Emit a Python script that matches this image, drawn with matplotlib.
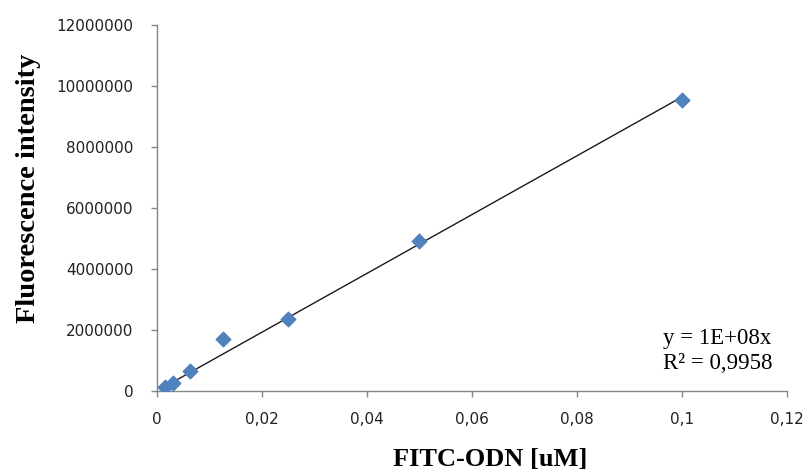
import matplotlib
matplotlib.use("Agg")
from matplotlib import pyplot as plt
from matplotlib.ticker import FuncFormatter
import numpy as np

# FITC-ODN concentration [uM] and measured fluorescence
conc = [0.1, 0.05, 0.025, 0.0125, 0.00625, 0.003125, 0.0015625]
intensity = [9540000, 4920000, 2360000, 1700000, 660000, 260000, 130000]

x_ticks = [0, 0.02, 0.04, 0.06, 0.08, 0.1, 0.12]
y_ticks = [0, 2000000, 4000000, 6000000, 8000000, 10000000, 12000000]

trend_label = 'y = 1E+08x\nR\u00b2 = 0,9958'

x = np.array(conc)
y = np.array(intensity)

# linear trendline forced through zero (Excel style)
slope = np.sum(x * y) / np.sum(x * x)

fig = plt.figure(figsize=(8.1, 4.73), dpi=100)
ax = fig.add_axes([0.1938, 0.1734, 0.7778, 0.7737])

xl = np.array([x.min(), x.max()])
ax.plot(xl, slope * xl, color='#1a1a1a', lw=1.0, zorder=2)
ax.scatter(x, y, marker='D', s=55, color='#4F81BD', edgecolors='#4F81BD',
           zorder=3)

ax.set_xlim(0, 0.12)
ax.set_ylim(0, 12000000)
ax.set_xticks(x_ticks)
ax.set_yticks(y_ticks)
ax.xaxis.set_major_formatter(FuncFormatter(
    lambda v, p: '0' if v == 0 else ('%g' % round(v, 4)).replace('.', ',')))
ax.yaxis.set_major_formatter(FuncFormatter(lambda v, p: '%d' % v))

for s in ['top', 'right']:
    ax.spines[s].set_visible(False)
for s in ['left', 'bottom']:
    ax.spines[s].set_color('#868686')
    ax.spines[s].set_linewidth(1.0)
ax.tick_params(direction='out', length=4.5, width=1.0, color='#868686',
               labelsize=11, labelcolor='#222222', pad=10.5)
ax.tick_params(axis='y', pad=12.5)

serif = ['Liberation Serif', 'DejaVu Serif']
fig.text(490 / 810, 1 - 459 / 473, 'FITC-ODN [uM]', family=serif,
         fontweight='bold', fontsize=19, ha='center', va='center')
fig.text(28.5 / 810, 1 - 188 / 473, 'Fluorescence intensity', family=serif,
         fontweight='bold', fontsize=20.5, ha='center', va='center',
         rotation=90)

fig.text(663 / 810, 1 - 351 / 473, trend_label, family=serif, fontsize=16.5,
         ha='left', va='center', linespacing=1.2)

fig.savefig('out.png', dpi=100)
